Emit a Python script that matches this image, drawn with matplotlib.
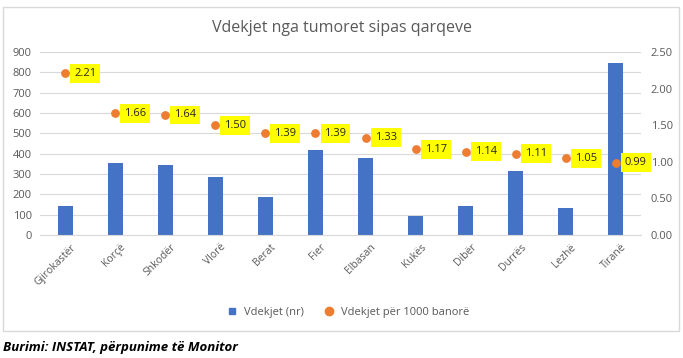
import matplotlib
matplotlib.use("Agg")
import matplotlib.pyplot as plt
import matplotlib.transforms as mtransforms
from matplotlib.patches import Rectangle
from matplotlib.lines import Line2D

regions = ["Gjirokastër", "Korçë", "Shkodër", "Vlorë", "Berat", "Fier",
           "Elbasan", "Kukës", "Dibër", "Durrës", "Lezhë", "Tiranë"]
deaths = [145, 355, 343, 283, 185, 420, 378, 93, 143, 316, 135, 848]
per_1000 = [2.21, 1.66, 1.64, 1.50, 1.39, 1.39, 1.33, 1.17, 1.14, 1.11, 1.05, 0.99]
left_ticks = list(range(0, 1000, 100))
right_ticks = [0.0, 0.5, 1.0, 1.5, 2.0, 2.5]

blue = "#4472C4"
orange = "#ED7D31"
grey = "#595959"
plt.rcParams["font.family"] = ["Open Sans", "DejaVu Sans"]

fig = plt.figure(figsize=(6.83, 3.58), dpi=100)
fig.patches.append(Rectangle((3 / 683, 1 - 331 / 358), 676 / 683, 324 / 358,
                             transform=fig.transFigure, fill=False,
                             edgecolor="#d9d9d9", linewidth=1))

ax = fig.add_axes([40 / 683, 1 - 235 / 358, 601 / 683, 183 / 358])
x = list(range(len(regions)))
ax.bar(x, deaths, width=0.3, color=blue, zorder=2)
ax.set_xlim(-0.5, len(regions) - 0.5)
ax.set_ylim(0, 900)
ax.set_yticks(left_ticks)
ax.grid(axis="y", color="#d9d9d9", linewidth=0.8, zorder=0)
for s in ["top", "right", "left"]:
    ax.spines[s].set_visible(False)
ax.spines["bottom"].set_color("#d9d9d9")
ax.tick_params(axis="both", length=0, labelsize=8, colors=grey)
ax.tick_params(axis="y", pad=6)
ax.set_xticks(x)
ax.set_xticklabels(regions, rotation=45, ha="right", rotation_mode="anchor",
                   fontsize=7.5)
ax.tick_params(axis="x", pad=5)
shift = mtransforms.ScaledTranslation(5 / 100, 0, fig.dpi_scale_trans)
for lbl in ax.get_xticklabels():
    lbl.set_transform(lbl.get_transform() + shift)

ax2 = ax.twinx()
ax2.scatter(x, per_1000, s=28, color=orange, zorder=3)
ax2.set_ylim(0, 2.5)
ax2.set_yticks(right_ticks)
ax2.set_yticklabels([f"{v:.2f}" for v in right_ticks])
for s in ["top", "right", "left", "bottom"]:
    ax2.spines[s].set_visible(False)
ax2.tick_params(axis="y", length=0, labelsize=8, colors=grey, pad=7)
for xi, v in zip(x, per_1000):
    ax2.annotate(f"{v:.2f}", (xi, v), xytext=(9, 0), textcoords="offset pixels",
                 ha="left", va="center", fontsize=8, color="#262626",
                 bbox=dict(boxstyle="square,pad=0.35", facecolor="#FFFF00",
                           edgecolor="none"), zorder=4)

fig.text(0.5, 1 - 28 / 358, "Vdekjet nga tumoret sipas qarqeve",
         ha="center", va="center", fontsize=11.5, color=grey)

handles = [Line2D([], [], marker="s", linestyle="none", color=blue, markersize=5),
           Line2D([], [], marker="o", linestyle="none", color=orange, markersize=6)]
fig.legend(handles, ["Vdekjet (nr)", "Vdekjet për 1000 banorë"],
           loc="center", bbox_to_anchor=(345 / 683, 1 - 312 / 358), ncol=2,
           frameon=False, fontsize=8, labelcolor=grey, handletextpad=0.1,
           columnspacing=1.2)

fig.text(3 / 683, 1 - 347 / 358, "Burimi: INSTAT, përpunime të Monitor",
         ha="left", va="center", fontsize=9.5, fontweight="bold",
         fontstyle="italic", color="black")

fig.savefig("out.png", dpi=100)
